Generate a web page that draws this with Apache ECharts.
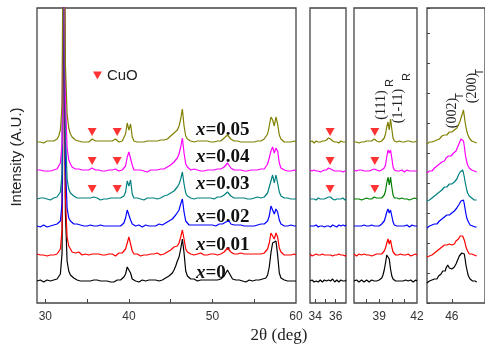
<!DOCTYPE html>
<html>
<head>
<meta charset="utf-8">
<script src="https://cdn.jsdelivr.net/npm/echarts@6/dist/echarts.min.js"></script>
<style>
  html, body { margin: 0; padding: 0; background: #fff; }
  #xrd { width: 485px; height: 347px; }
</style>
</head>
<body>
<div id="xrd"></div>
<script>
// sample names and vertical offsets of each stacked pattern
const sampleNames = ["x=0", "x=0.01", "x=0.02", "x=0.03", "x=0.04", "x=0.05"];
const offsets = [20, 46, 75, 102, 130, 159];

// panel A: 29-60 deg, step 0.2
const pA_start = 29, pA_step = 0.2;
const pA_0 = [2,1,3,2,1,2,3,1,2,3, 3,2,4,5,9,30,330,70,22,12, 8,6,5,4,3,4,2,3,2,3, 2,3,2,4,3,2,3,1,2,3,
  2,1,2,0,1,2,1,2,3,2, 3,4,6,9,16,18,10,4,3,2, 2,1,2,3,1,2,2,3,2,3, 2,3,3,2,4,3,4,5,6,7,
  8,10,13,17,22,26,34,44,30,12, 7,5,4,3,4,3,2,3,3,2, 3,2,3,2,3,2,3,4,3,3, 4,5,7,9,13,12,7,4,3,3,
  2,3,2,2,3,1,2,3,2,2, 2,3,2,3,3,4,3,5,8,16, 30,40,38,42,28,10,5,3,3,2, 2,1,2,3,2,2];
const pA_1 = [3,1,2,4,2,3,1,3,2,4, 2,3,3,5,8,28,330,60,20,11, 8,5,6,4,3,5,3,2,4,3, 3,2,4,3,2,3,2,3,4,2,
  3,2,1,3,2,3,2,1,3,4, 3,4,5,8,14,20,18,6,3,2, 3,2,1,3,2,3,2,1,3,2, 3,2,4,3,2,4,3,4,5,6,
  7,8,10,12,11,14,20,27,18,8, 5,4,3,4,2,3,3,2,4,3, 2,3,2,4,3,2,3,3,2,4, 3,4,5,7,9,8,5,4,3,2,
  3,2,4,2,3,2,3,2,3,2, 3,2,3,4,3,3,4,5,8,14, 24,25,18,24,20,9,5,3,2,3, 2,3,2,1,3,2];
const pA_2 = [2,3,1,2,3,2,1,3,2,2, 3,2,4,4,7,25,330,65,20,10, 7,5,4,3,4,2,3,3,2,3, 2,3,3,4,2,3,2,1,3,2,
  2,3,2,1,2,3,2,3,2,3, 2,3,5,10,18,16,8,4,3,2, 2,3,2,1,2,3,2,2,3,2, 3,2,3,4,3,3,4,5,5,7,
  8,9,11,13,14,18,24,29,16,7, 5,3,4,3,2,3,2,3,2,3, 2,3,2,3,2,3,3,2,3,4, 3,4,5,6,8,7,4,3,3,2,
  3,2,3,2,2,3,2,3,2,3, 2,3,3,2,4,3,4,5,7,12, 22,20,14,19,16,8,4,3,2,3, 2,2,3,1,2,2];
const pA_3 = [2,1,3,2,3,2,2,3,1,3, 3,4,4,6,9,28,330,70,22,12, 8,6,5,4,3,4,3,2,3,2, 3,2,3,5,4,2,3,2,1,2,
  2,3,2,1,3,2,3,4,3,2, 3,3,5,9,20,15,21,7,3,2, 3,2,2,3,1,2,3,2,3,2, 3,3,2,4,3,4,5,4,6,7,
  8,9,10,12,14,17,22,29,17,8, 5,4,3,3,2,4,3,2,3,2, 3,2,3,2,3,3,2,3,4,3, 4,5,6,8,9,7,5,3,3,2,
  3,2,3,2,3,2,2,3,2,3, 3,2,4,3,3,4,4,6,8,14, 20,26,18,26,18,9,5,3,3,2, 3,2,2,3,2,2];
const pA_4 = [3,2,3,1,2,3,2,3,2,4, 3,3,4,6,10,30,330,75,25,13, 9,6,5,4,3,4,3,3,2,3, 2,3,3,5,3,3,2,3,2,2,
  3,2,2,3,2,3,3,4,3,2, 2,3,4,7,16,21,20,8,3,2, 3,2,3,2,2,3,1,2,3,2, 3,2,3,3,4,3,4,5,6,7,
  8,10,11,13,15,19,26,35,20,9, 6,4,3,3,4,2,3,3,2,3, 2,3,3,2,3,2,3,3,4,3, 4,5,6,8,10,8,5,4,3,2,
  3,2,3,2,2,3,2,3,3,2, 3,2,3,3,4,3,4,6,9,15, 22,26,20,25,22,10,5,3,3,2, 2,3,2,2,3,2];
const pA_5 = [2,3,2,3,1,2,3,2,3,2, 3,4,5,8,14,40,330,80,30,16, 10,7,5,4,4,3,4,2,3,2, 3,2,3,5,4,3,2,3,2,3,
  2,3,2,3,2,3,3,5,3,2, 3,3,5,10,21,14,20,7,3,2, 2,3,2,3,2,2,3,2,3,2, 3,2,3,3,4,3,4,5,5,7,
  8,9,11,12,14,18,25,35,18,8, 5,4,3,3,2,3,3,2,3,2, 3,2,3,3,2,3,2,3,3,4, 3,4,6,7,9,7,5,3,3,2,
  3,2,2,3,2,3,2,3,2,3, 2,3,3,4,3,4,5,6,10,18, 27,24,18,27,20,9,5,3,2,3, 2,3,2,2,3,2];

// panel B: 33.5-37 deg, step 0.1
const pB_start = 33.5, pB_step = 0.1;
const pB_0 = [2,1,3,2,1,2,2,3,1,2, 3,2,1,2,3,2,2,1,3,2, 2,3,4,2,1,2,3,2,1,2, 3,2,2,1,2,3];
const pB_1 = [3,2,1,3,2,2,3,1,2,3, 2,1,3,2,2,3,2,1,2,3, 2,2,1,3,2,3,2,2,3,1, 2,3,2,2,1,2];
const pB_2 = [2,3,2,1,2,3,3,2,1,2, 2,3,2,2,1,3,2,3,2,2, 1,2,3,2,2,3,1,2,3,2, 2,1,3,2,2,3];
const pB_3 = [2,1,2,3,2,2,1,2,3,2, 2,1,2,3,2,2,3,3,4,5, 4,3,2,2,1,2,2,3,2,1, 2,2,3,2,1,2];
const pB_4 = [3,2,2,1,3,2,2,3,2,2, 1,3,2,2,3,2,3,4,5,6, 4,3,3,2,2,3,2,1,2,3, 2,2,1,3,2,2];
const pB_5 = [2,2,3,2,1,2,3,2,2,3, 2,2,3,2,3,3,4,5,6,6, 5,4,3,2,2,3,2,2,1,2, 3,2,2,3,2,2];

// panel C: 37-42 deg, step 0.1
const pC_start = 37, pC_step = 0.1;
const pC_0 = [2,1,3,2,1,2,3,2,1,2, 3,2,1,2,3,2,2,3,2,3, 3,4,5,8,13,20,28,30,24,14, 7,4,3,2,3,2,1,2,3,2, 2,3,1,2,2,3,2,1,2,3,2];
const pC_1 = [3,2,1,2,3,2,2,1,3,2, 2,3,2,2,1,3,2,2,3,2, 3,2,3,4,6,9,14,18,13,17, 10,5,3,2,3,2,2,3,1,2, 3,2,2,3,2,1,3,2,2,3,2];
const pC_2 = [2,3,2,1,2,3,2,2,3,1, 2,3,2,2,3,1,2,3,2,2, 2,3,4,5,7,11,16,19,15,18, 12,6,3,2,2,3,2,1,2,3, 2,2,3,2,1,2,3,2,2,3,2];
const pC_3 = [2,1,2,3,2,2,1,3,2,2, 3,2,2,3,2,3,4,4,3,2, 3,2,3,4,6,10,18,24,16,24, 14,6,3,2,3,2,2,1,3,2, 2,3,2,2,1,3,2,2,3,2,2];
const pC_4 = [3,2,2,1,3,2,3,2,2,3, 2,3,2,2,3,2,4,5,3,2, 2,3,3,4,5,8,16,23,20,23, 15,6,3,2,2,3,2,2,3,2, 1,2,3,2,2,3,2,1,2,3,2];
const pC_5 = [2,3,2,2,1,3,2,3,2,2, 3,2,3,2,3,4,5,4,3,3, 2,3,3,4,6,10,17,22,14,25, 15,6,3,3,2,2,3,2,2,3, 2,2,3,2,3,2,2,3,2,2,3];

// panel D: 43-49 deg, step 0.1
const pD_start = 43, pD_step = 0.1;
const pD_0 = [0,1,0,2,1,2,3,2,3,4, 4,5,4,6,7,6,8,9,10,12, 11,13,12,15,17,18,17,15,14,13, 14,13,15,16,18,19,21,23,25,27, 28,29,30,30,31,29,24,18,14,10, 7,5,4,3,3,2,2,1,2,1, 1];
const pD_1 = [0,1,2,1,2,3,2,4,3,4, 5,4,6,7,6,8,9,8,10,11, 10,12,11,13,12,11,12,13,12,13, 12,13,14,13,15,16,15,17,18,19, 21,20,22,21,20,17,14,10,8,6, 5,3,4,2,3,2,1,2,2,1, 1];
const pD_2 = [0,1,0,2,1,2,3,2,3,4, 3,5,4,6,5,7,8,7,9,10, 9,11,12,11,13,12,14,13,15,14, 15,14,16,17,16,18,20,19,22,24, 25,27,26,29,28,24,19,14,10,8, 6,4,3,3,2,2,1,2,1,1, 1];
const pD_3 = [0,1,2,1,2,3,3,4,3,5, 5,6,7,6,8,9,8,10,11,12, 12,14,13,15,14,16,15,17,16,15, 17,16,18,19,20,19,22,24,26,28, 29,31,30,31,28,24,19,15,11,8, 6,5,4,3,3,2,2,1,2,1, 1];
const pD_4 = [0,1,0,2,2,3,2,4,4,5, 6,5,7,8,7,9,10,9,11,12, 13,12,14,15,14,16,17,16,18,17, 19,18,20,21,20,22,24,26,28,30, 31,34,33,35,32,27,20,15,11,8, 6,5,4,3,3,2,2,2,1,1, 1];
const pD_5 = [0,1,1,2,1,3,2,3,4,3, 4,5,4,5,6,5,7,6,8,7, 8,9,8,10,9,11,10,12,11,12, 12,13,12,14,15,14,16,17,19,21, 23,26,28,31,34,28,22,17,13,10, 8,6,5,4,3,3,2,2,2,1, 1];

// CuO reflections, marked on the three richest samples
const cuoA = [35.6, 38.6];
const cuoB = [35.45];
const cuoC = [38.65];
const cuoSamples = [3, 4, 5];

const panels = [
  { start: pA_start, step: pA_step, ys: [pA_0, pA_1, pA_2, pA_3, pA_4, pA_5], cuo: cuoA },
  { start: pB_start, step: pB_step, ys: [pB_0, pB_1, pB_2, pB_3, pB_4, pB_5], cuo: cuoB },
  { start: pC_start, step: pC_step, ys: [pC_0, pC_1, pC_2, pC_3, pC_4, pC_5], cuo: cuoC },
  { start: pD_start, step: pD_step, ys: [pD_0, pD_1, pD_2, pD_3, pD_4, pD_5], cuo: [] },
];

const colors = ["#000000", "#ff0000", "#0000ff", "#008080", "#ff00ff", "#808000"];
const colorsC = ["#000000", "#ff0000", "#0000ff", "#008000", "#ff00ff", "#808000"];

const boxes = [
  { left: 37, width: 259, min: 29, max: 60, ticks: [30, 35, 40, 45, 50, 55], labels: [30, 40, 50, 60] },
  { left: 310, width: 36, min: 33.5, max: 37, ticks: [34, 35, 36], labels: [34, 36] },
  { left: 354, width: 63, min: 37, max: 42, ticks: [38, 39, 40, 41], labels: [39, 42] },
  { left: 427, width: 72, min: 43, max: 50, ticks: [46], labels: [46] },
];

function toPairs(ys, start, step, base) {
  return ys.map((v, i) => [+(start + i * step).toFixed(2), v + base]);
}

const chart = echarts.init(document.getElementById("xrd"));

const grid = boxes.map((b) => ({
  left: b.left, width: b.width, top: 8, height: 295,
  show: true, borderColor: "#444", borderWidth: 1.3, backgroundColor: "transparent",
}));

const xAxis = boxes.map((b, i) => ({
  type: "value", gridIndex: i, min: b.min, max: b.max,
  axisLine: { show: false },
  splitLine: { show: false },
  axisTick: { show: true, inside: true, length: 4, lineStyle: { color: "#444" }, customValues: b.ticks },
  axisLabel: { show: true, customValues: b.labels, margin: 8, color: "#333", fontSize: 12, fontFamily: "Liberation Sans" },
}));

const yAxis = boxes.map((b, i) => ({
  type: "value", gridIndex: i, min: 0, max: 295, interval: 30,
  axisLine: { show: false },
  splitLine: { show: false },
  axisLabel: { show: false },
  axisTick: { show: i === 3, inside: true, length: 3, lineStyle: { color: "#444" } },
}));

const series = [];
panels.forEach((p, pi) => {
  p.ys.forEach((ys, k) => {
    series.push({
      name: sampleNames[k],
      type: "line",
      xAxisIndex: pi,
      yAxisIndex: pi,
      data: toPairs(ys, p.start, p.step, offsets[k]),
      showSymbol: false,
      symbol: "none",
      clip: true,
      lineStyle: { width: 1.2, color: pi === 2 ? colorsC[k] : colors[k] },
      itemStyle: { color: pi === 2 ? colorsC[k] : colors[k] },
    });
  });
  if (p.cuo.length) {
    const pts = [];
    cuoSamples.forEach((k) => p.cuo.forEach((x) => pts.push([x, offsets[k] + 12])));
    series.push({
      name: "CuO",
      type: "scatter",
      xAxisIndex: pi,
      yAxisIndex: pi,
      data: pts,
      symbol: "triangle",
      symbolRotate: 180,
      symbolSize: [9, 8],
      itemStyle: { color: "#ff0000" },
      z: 5,
    });
  }
});

// x= labels next to each trace
const labelTops = [273, 245, 217, 184, 157, 130];
const sampleText = sampleNames.map((s, k) => ({
  type: "text",
  x: 196, y: labelTops[k],
  style: {
    text: "{i|x}{n|" + s.slice(1) + "}",
    verticalAlign: "middle", textVerticalAlign: "middle",
    rich: {
      i: { fontFamily: "Liberation Serif", fontSize: 19, fontWeight: "bold", fontStyle: "italic", fill: "#111" },
      n: { fontFamily: "Liberation Serif", fontSize: 19, fontWeight: "bold", fill: "#111" },
    },
  },
}));

function vtext(x, y, text, font) {
  return {
    type: "text", x: x, y: y, rotation: Math.PI / 2,
    style: { text: text, font: font, fill: "#222",
      align: "center", textAlign: "center", verticalAlign: "middle", textVerticalAlign: "middle" },
  };
}

chart.setOption({
  animation: false,
  backgroundColor: "#fff",
  legend: {
    data: ["CuO"], left: 88, top: 63,
    icon: "path://M0,0L10,0L5,9Z", itemWidth: 9, itemHeight: 8, itemGap: 6,
    textStyle: { fontSize: 15, color: "#222", fontFamily: "Liberation Sans" },
  },
  grid: grid,
  xAxis: xAxis,
  yAxis: yAxis,
  series: series,
  graphic: sampleText.concat([
    vtext(17, 157, "Intensity (A.U.)", "15px Liberation Sans"),
    {
      type: "text", x: 279, y: 336,
      style: { text: "2θ (deg)", font: "17px Liberation Serif", fill: "#222",
        align: "center", textAlign: "center", verticalAlign: "middle", textVerticalAlign: "middle" },
    },
    vtext(381, 105, "(111)", "14px Liberation Serif"),
    vtext(390, 83, "R", "11px Liberation Sans"),
    vtext(398, 106, "(1-11)", "14px Liberation Serif"),
    vtext(407, 77, "R", "11px Liberation Sans"),
    vtext(452, 113, "(002)", "14px Liberation Serif"),
    vtext(460, 96, "T", "10px Liberation Sans"),
    vtext(472, 88, "(200)", "14px Liberation Serif"),
    vtext(480, 72, "T", "10px Liberation Sans"),
  ]),
});
</script>
</body>
</html>
